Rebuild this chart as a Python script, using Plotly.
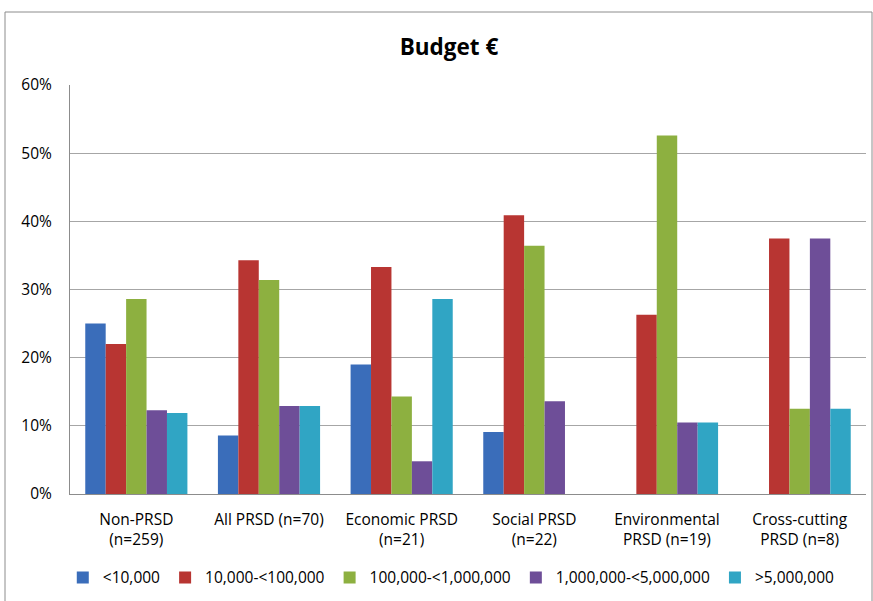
import plotly.graph_objects as go

# categories and series (shares of projects per budget band, %)
categories = [
    "Non-PRSD<br>(n=259)",
    "All PRSD (n=70)",
    "Economic PRSD<br>(n=21)",
    "Social PRSD<br>(n=22)",
    "Environmental<br>PRSD (n=19)",
    "Cross-cutting<br>PRSD (n=8)",
]
series_names = ["<10,000", "10,000-<100,000", "100,000-<1,000,000",
                "1,000,000-<5,000,000", ">5,000,000"]
under_10k = [25.0, 8.6, 19.0, 9.1, 0, 0]
from_10k = [22.0, 34.3, 33.3, 40.9, 26.3, 37.5]
from_100k = [28.6, 31.4, 14.3, 36.4, 52.6, 12.5]
from_1m = [12.3, 12.9, 4.8, 13.6, 10.5, 37.5]
over_5m = [11.9, 12.9, 28.6, 0, 10.5, 12.5]
y_ticks = [0, 10, 20, 30, 40, 50, 60]

colors = ["#3A6DBA", "#B83532", "#8DB040", "#6E4E98", "#30A5C4"]
values = [under_10k, from_10k, from_100k, from_1m, over_5m]

FONT = "'Open Sans', Lato, sans-serif"

fig = go.Figure()
for name, vals, col in zip(series_names, values, colors):
    fig.add_trace(go.Bar(
        x=categories,
        y=vals,
        name=name,
        marker=dict(color=col, line=dict(width=0)),
    ))

# plot area in pixels: left 70, right 866, top 85, bottom 494
fig.update_layout(
    width=873,
    height=601,
    barmode="group",
    bargap=0.23,
    bargroupgap=0,
    plot_bgcolor="white",
    paper_bgcolor="white",
    margin=dict(l=70, r=7, t=85, b=107, autoexpand=False),
    font=dict(family=FONT, size=15, color="black"),
    title=dict(
        text="<b>Budget €</b>",
        x=449 / 873,
        xanchor="center",
        y=1 - 47 / 601,
        yanchor="middle",
        font=dict(size=22.5, family=FONT, color="black"),
    ),
    legend=dict(
        orientation="h",
        x=0.479,
        xanchor="center",
        y=-0.205,
        yanchor="middle",
        font=dict(size=15.5, family=FONT),
        itemwidth=30,
        tracegroupgap=0,
    ),
    showlegend=True,
)

fig.update_yaxes(
    range=[0, 60],
    tickvals=y_ticks,
    ticktext=[f"{v}%" for v in y_ticks],
    showgrid=True,
    gridcolor="#A6A6A6",
    gridwidth=1,
    showline=True,
    linecolor="#8C8C8C",
    linewidth=1,
    ticks="",
    zeroline=False,
    tickfont=dict(size=15.5),
    ticklabelstandoff=14,
)
fig.update_xaxes(
    showline=True,
    linecolor="#8C8C8C",
    linewidth=1,
    ticks="",
    tickfont=dict(size=15.5),
    tickangle=0,
    ticklabelstandoff=11,
)

# outer chart frame
fig.add_shape(
    type="rect",
    xref="paper", yref="paper",
    x0=(5 - 70) / 796, x1=(872 - 70) / 796,
    y0=-0.3, y1=(494 - 12) / 409,
    line=dict(color="#8C8C8C", width=1),
    fillcolor="rgba(0,0,0,0)",
    layer="below",
)

fig.write_html(
    "out.html",
    config={"displayModeBar": False},
    post_script="document.body.style.margin='0';",
)
